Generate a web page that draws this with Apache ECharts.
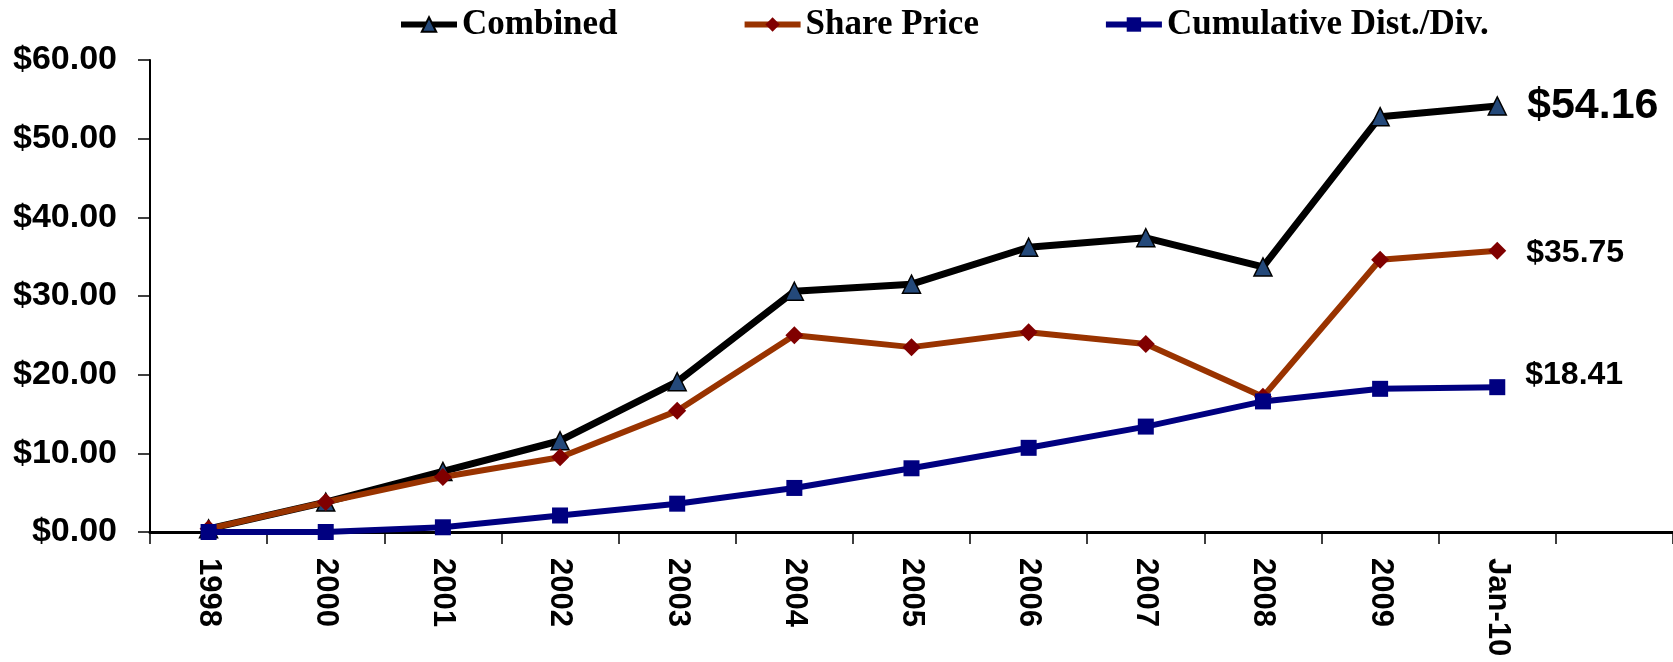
<!DOCTYPE html>
<html>
<head>
<meta charset="utf-8">
<script src="https://cdn.jsdelivr.net/npm/echarts@6/dist/echarts.min.js"></script>
<style>
  html, body { margin: 0; padding: 0; background: #fff; }
  #chart { width: 1673px; height: 662px; }
</style>
</head>
<body>
<div id="chart"></div>
<script>
// last slot is left empty, the axis runs on past Jan-10
const categories = ["1998", "2000", "2001", "2002", "2003", "2004", "2005", "2006", "2007", "2008", "2009", "Jan-10", ""];
const combined = [0.4, 3.8, 7.7, 11.6, 19.1, 30.6, 31.5, 36.2, 37.4, 33.7, 52.8, 54.16];
const sharePrice = [0.4, 3.8, 7.0, 9.5, 15.4, 25.0, 23.5, 25.4, 23.9, 17.2, 34.6, 35.75];
const cumulative = [0.0, 0.0, 0.6, 2.1, 3.6, 5.6, 8.1, 10.7, 13.4, 16.6, 18.2, 18.41];
const yTicks = [0, 10, 20, 30, 40, 50, 60];

function money(v) {
  return "$" + Number(v).toFixed(2);
}

function withEndLabel(values, fontSize, offsetY) {
  const last = values.length - 1;
  return values.map((v, i) => {
    if (i !== last) return v;
    return {
      value: v,
      label: {
        show: true,
        position: "right",
        distance: 20,
        offset: [0, offsetY],
        formatter: (p) => money(p.value),
        fontFamily: "Liberation Sans, Arial, sans-serif",
        fontWeight: "bold",
        fontSize: fontSize,
        color: "#000",
      },
    };
  });
}

const chart = echarts.init(document.getElementById("chart"), null, { renderer: "canvas" });

chart.setOption({
  animation: false,
  backgroundColor: "#fff",
  legend: {
    left: 393,
    top: 2,
    itemWidth: 56,
    itemHeight: 18,
    itemGap: 124,
    textStyle: {
      fontFamily: "Liberation Serif, Times New Roman, serif",
      fontWeight: "bold",
      fontSize: 35,
      color: "#000",
    },
    data: [
      { name: "Combined", lineStyle: { width: 6 } },
      { name: "Share Price", lineStyle: { width: 6 } },
      { name: "Cumulative Dist./Div.", lineStyle: { width: 6 } },
    ],
  },
  grid: { left: 150, right: 0, top: 60, bottom: 130, containLabel: false },
  xAxis: {
    type: "category",
    data: categories,
    boundaryGap: true,
    axisLine: { lineStyle: { color: "#000", width: 3 } },
    axisTick: { show: true, interval: 0, length: 12, lineStyle: { color: "#000", width: 1.5 } },
    axisLabel: {
      interval: 0,
      rotate: -90,
      margin: 26,
      fontFamily: "Liberation Sans, Arial, sans-serif",
      fontWeight: "bold",
      fontSize: 31,
      color: "#000",
    },
    splitLine: { show: false },
  },
  yAxis: {
    type: "value",
    min: yTicks[0],
    max: yTicks[yTicks.length - 1],
    interval: 10,
    axisLine: { show: true, lineStyle: { color: "#000", width: 2 } },
    axisTick: { show: true, inside: false, length: 12, lineStyle: { color: "#000", width: 1.5 } },
    axisLabel: {
      margin: 33,
      formatter: (v) => money(v),
      fontFamily: "Liberation Sans, Arial, sans-serif",
      fontWeight: "bold",
      fontSize: 34,
      color: "#000",
    },
    splitLine: { show: false },
  },
  series: [
    {
      name: "Combined",
      type: "line",
      data: withEndLabel(combined, 43, 0),
      symbol: "triangle",
      symbolSize: 18,
      showAllSymbol: true,
      lineStyle: { color: "#000", width: 7 },
      itemStyle: { color: "#24497a", borderColor: "#000", borderWidth: 1.5 },
      z: 2,
    },
    {
      name: "Share Price",
      type: "line",
      data: withEndLabel(sharePrice, 32, 2),
      symbol: "diamond",
      symbolSize: [18, 18],
      showAllSymbol: true,
      lineStyle: { color: "#993300", width: 6 },
      itemStyle: { color: "#800000" },
      z: 3,
    },
    {
      name: "Cumulative Dist./Div.",
      type: "line",
      data: withEndLabel(cumulative, 32, -12),
      symbol: "rect",
      symbolSize: [16, 16],
      showAllSymbol: true,
      lineStyle: { color: "#000080", width: 6 },
      itemStyle: { color: "#000080" },
      z: 4,
    },
  ],
});

window.addEventListener("resize", () => chart.resize());
</script>
</body>
</html>
